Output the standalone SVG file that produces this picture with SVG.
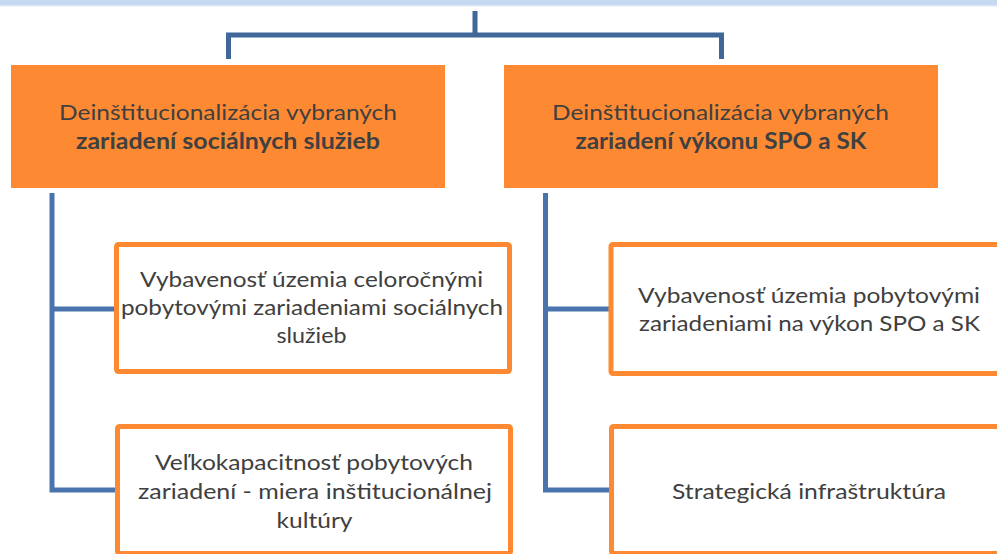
<svg xmlns="http://www.w3.org/2000/svg" width="997" height="554" viewBox="0 0 997 554">
<style>
.hdr{fill:#FD8A33;}
.child{fill:#FFFFFF;stroke:#FD8A33;stroke-width:5;}
.t{font-family:Lato,"Open Sans","Liberation Sans",sans-serif;font-size:22px;fill:#404040;text-anchor:middle;}
.b{font-weight:bold;}
.c1{fill:none;stroke:#3F6798;stroke-width:5;stroke-linejoin:miter;}
.c2{fill:none;stroke:#4A74AD;stroke-width:5;stroke-linejoin:miter;}
</style>
<rect x="0" y="0" width="997" height="554" fill="#FFFFFF"/>
<rect id="band" x="0" y="0" width="997" height="5" fill="#C6D9F0"/>
<rect x="0" y="5" width="997" height="1.5" fill="#DCE7F5"/>
<g id="connectors">
<path class="c1" d="M228.5 59 V35 H721.5 V59 M475 11 V35"/>
<path class="c2" d="M52 193 V490 H117 M52 309 H117"/>
<path class="c2" d="M545.5 193 V490 H612 M545.5 309 H612"/>
</g>
<g id="node-header-left">
<rect class="hdr" x="11" y="65" width="434" height="123"/>
<text class="t" x="228" y="120" textLength="338" lengthAdjust="spacingAndGlyphs">Deinštitucionalizácia vybraných</text>
<text class="t b" x="228" y="149" textLength="304" lengthAdjust="spacingAndGlyphs">zariadení sociálnych služieb</text>
</g>
<g id="node-header-right">
<rect class="hdr" x="504" y="65" width="434" height="123"/>
<text class="t" x="720.5" y="120" textLength="337" lengthAdjust="spacingAndGlyphs">Deinštitucionalizácia vybraných</text>
<text class="t b" x="721" y="149" textLength="291" lengthAdjust="spacingAndGlyphs">zariadení výkonu SPO a SK</text>
</g>
<g id="node-left-1">
<rect class="child" x="116.5" y="244.5" width="393" height="127" rx="2"/>
<text class="t" x="311.5" y="287" textLength="343" lengthAdjust="spacingAndGlyphs">Vybavenosť územia celoročnými</text>
<text class="t" x="312" y="315" textLength="382" lengthAdjust="spacingAndGlyphs">pobytovými zariadeniami sociálnych</text>
<text class="t" x="311.5" y="343" textLength="70" lengthAdjust="spacingAndGlyphs">služieb</text>
</g>
<g id="node-left-2">
<rect class="child" x="117.5" y="426.5" width="393" height="127" rx="2"/>
<text class="t" x="314" y="470" textLength="318" lengthAdjust="spacingAndGlyphs">Veľkokapacitnosť pobytových</text>
<text class="t" x="315" y="499" textLength="354" lengthAdjust="spacingAndGlyphs">zariadení - miera inštitucionálnej</text>
<text class="t" x="314.5" y="528" textLength="76" lengthAdjust="spacingAndGlyphs">kultúry</text>
</g>
<g id="node-right-1">
<rect class="child" x="611" y="244.5" width="396" height="129" rx="2"/>
<text class="t" x="809" y="303" textLength="342" lengthAdjust="spacingAndGlyphs">Vybavenosť územia pobytovými</text>
<text class="t" x="809.5" y="331" textLength="341" lengthAdjust="spacingAndGlyphs">zariadeniami na výkon SPO a SK</text>
</g>
<g id="node-right-2">
<rect class="child" x="611.5" y="426.5" width="396" height="127" rx="2"/>
<text class="t" x="809" y="499" textLength="274" lengthAdjust="spacingAndGlyphs">Strategická infraštruktúra</text>
</g>
</svg>
